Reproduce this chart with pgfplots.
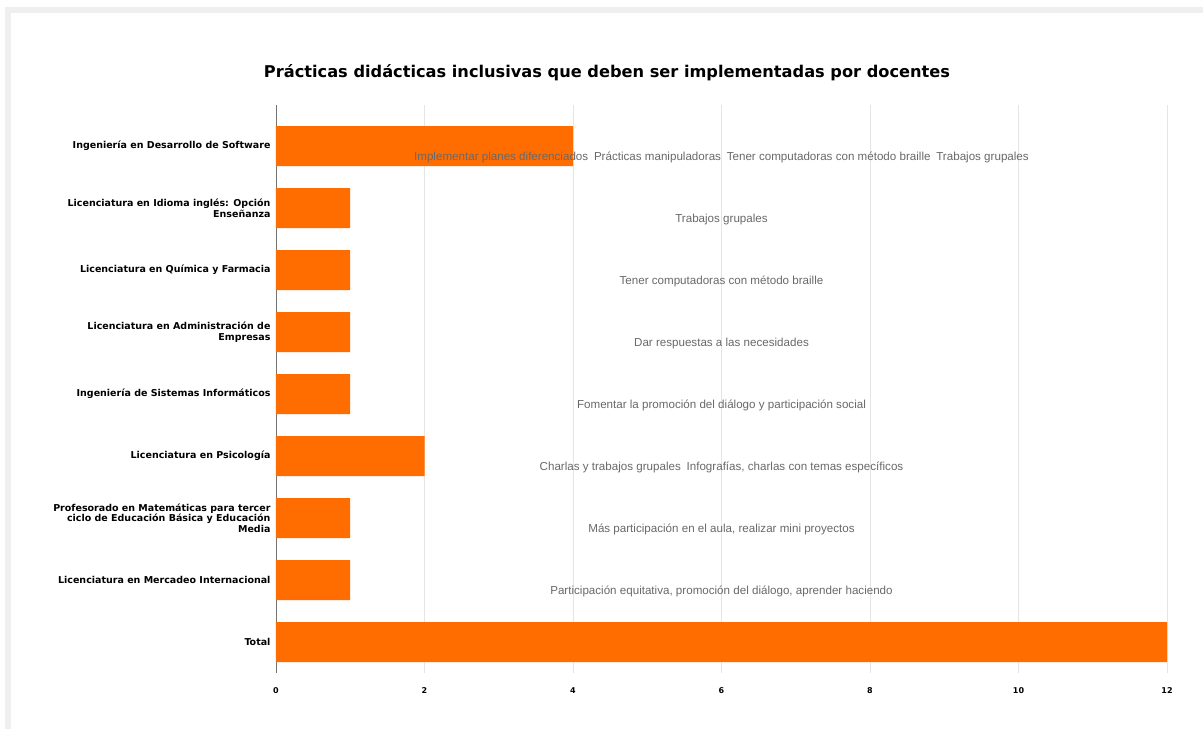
\documentclass[border=0pt]{standalone}
\usepackage{pgfplots}
\pgfplotsset{compat=1.18}
\usepackage{fontspec}
\setmainfont{Liberation Sans}
\newfontfamily\dvb{DejaVu Sans}[BoldFont={DejaVu Sans Bold}]
\definecolor{barorange}{RGB}{255,109,0}
\definecolor{frame}{RGB}{239,239,239}
\definecolor{anno}{RGB}{105,105,105}
\begin{document}
\begin{tikzpicture}[x=1pt,y=1pt]
\useasboundingbox (0,0) rectangle (1203,729);
\fill[white] (0,0) rectangle (1203,729);
\fill[frame] (5,0) rectangle (11,722);
\fill[frame] (5,716) rectangle (1203,722);
\node[font=\dvb\bfseries\fontsize{16.2}{18}\selectfont] at (607,656) {Prácticas didácticas inclusivas que deben ser implementadas por docentes};
\begin{axis}[
  at={(276pt,56pt)}, anchor=south west,
  scale only axis, width=891pt, height=568pt,
  xbar, bar width=40pt,
  xmin=0, xmax=12, xtick={0,2,...,12},
  ymin=-0.663, ymax=8.5, y dir=reverse,
  ytick={0,...,8},
  yticklabels={
    {Ingeniería en Desarrollo de Software},
    {Licenciatura en Idioma inglés: Opción\\Enseñanza},
    {Licenciatura en Química y Farmacia},
    {Licenciatura en Administración de\\Empresas},
    {Ingeniería de Sistemas Informáticos},
    {Licenciatura en Psicología},
    {Profesorado en Matemáticas para tercer\\ciclo de Educación Básica y Educación\\Media},
    {Licenciatura en Mercadeo Internacional},
    {Total}},
  yticklabel style={font=\dvb\bfseries\fontsize{9.5}{10.5}\selectfont, align=right, xshift=-2pt},
  xticklabel style={font=\dvb\bfseries\fontsize{8}{9}\selectfont, yshift=-11pt},
  /pgf/number format/assume math mode=true,
  xmajorgrids, major grid style={draw=black!10, line width=0.8pt},
  axis x line*=bottom, axis y line*=left,
  x axis line style={draw=none},
  y axis line style={draw=black!55, line width=0.8pt, -},
  major tick length=0pt,
  tick style={draw=none},
  clip=false,
]
\addplot[draw=none, fill=barorange] coordinates {
  (4,0) (1,1) (1,2) (1,3) (1,4) (2,5) (1,6) (1,7) (12,8)};
\begin{scope}[every node/.style={text=anno, font=\fontsize{11.6}{13}\selectfont, yshift=-11pt}]
\node at (axis cs:6,0) {Implementar planes diferenciados\enspace Prácticas manipuladoras\enspace Tener computadoras con método braille\enspace Trabajos grupales};
\node at (axis cs:6,1) {Trabajos grupales};
\node at (axis cs:6,2) {Tener computadoras con método braille};
\node at (axis cs:6,3) {Dar respuestas a las necesidades};
\node at (axis cs:6,4) {Fomentar la promoción del diálogo y participación social};
\node at (axis cs:6,5) {Charlas y trabajos grupales\enspace Infografías, charlas con temas específicos};
\node at (axis cs:6,6) {Más participación en el aula, realizar mini proyectos};
\node at (axis cs:6,7) {Participación equitativa, promoción del diálogo, aprender haciendo};
\end{scope}
\end{axis}
\end{tikzpicture}
\end{document}
